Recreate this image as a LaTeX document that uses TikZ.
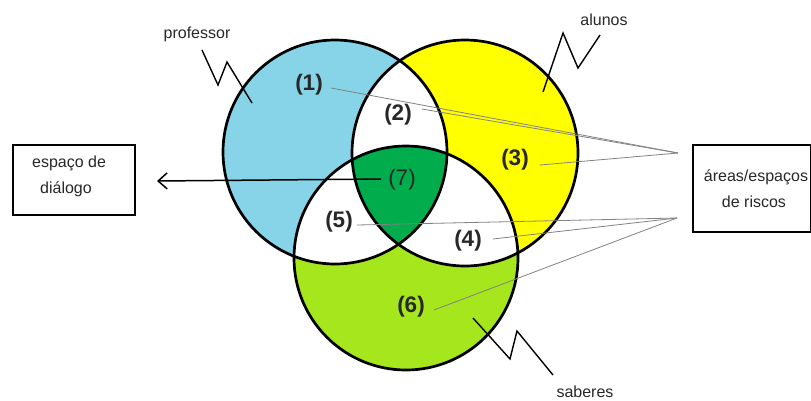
\documentclass[tikz,border=0pt]{standalone}
\usepackage{fontspec}
\setmainfont{Liberation Sans}
\usetikzlibrary{arrows.meta}
\definecolor{profblue}{RGB}{135,212,233}
\definecolor{alunyel}{RGB}{255,255,0}
\definecolor{sablime}{RGB}{165,230,28}
\definecolor{trigreen}{RGB}{0,172,76}
\definecolor{txtgray}{RGB}{40,40,40}
\definecolor{conngray}{RGB}{130,130,130}
\tikzset{
  lbl/.style={font=\fontsize{16}{18}\selectfont, text=txtgray, inner sep=0pt},
  num/.style={font=\fontsize{22.5}{24}\selectfont\bfseries, text=txtgray, inner sep=2pt},
  numlight/.style={font=\fontsize{22.5}{24}\selectfont, text=txtgray, inner sep=2pt},
  box/.style={draw=black, line width=1.4pt},
  ring/.style={draw=black, line width=2.7pt},
  conn/.style={draw=conngray, line width=0.8pt},
  zig/.style={draw=black, line width=1.4pt, line join=miter},
  arr/.style={draw=black, line width=1.5pt, -{Straight Barb[length=9pt,width=16pt,line width=1.5pt]}}
}
\begin{document}
\begin{tikzpicture}[x=1pt,y=-1pt]
\useasboundingbox (0,0) rectangle (811,400);
\fill[white] (0,0) rectangle (811,400);
% circle centres
\coordinate (B) at (335,152);
\coordinate (Y) at (465,153);
\coordinate (G) at (406,258);
% fills
\fill[profblue] (B) circle (112pt);
\fill[alunyel] (Y) circle (113pt);
\fill[sablime] (G) circle (112pt);
\begin{scope}
  \clip (B) circle (112pt);
  \fill[white] (Y) circle (113pt);
  \fill[white] (G) circle (112pt);
\end{scope}
\begin{scope}
  \clip (Y) circle (113pt);
  \fill[white] (G) circle (112pt);
\end{scope}
\begin{scope}
  \clip (B) circle (112pt);
  \clip (Y) circle (113pt);
  \fill[trigreen] (G) circle (112pt);
\end{scope}
% zigzags (drawn under outlines)
\coordinate (zp0) at (202,50);
\coordinate (zp1) at (218,85);
\coordinate (zp2) at (227,62);
\coordinate (zp3) at (252,103);
\draw[zig] (zp0) -- (zp1) -- (zp2) -- (zp3);
\coordinate (za0) at (543,92);
\coordinate (za1) at (563,33);
\coordinate (za2) at (578,68);
\coordinate (za3) at (600,35);
\draw[zig] (za0) -- (za1) -- (za2) -- (za3);
\coordinate (zs0) at (473,318);
\coordinate (zs1) at (510,359);
\coordinate (zs2) at (517,331);
\coordinate (zs3) at (553,375);
\draw[zig] (zs0) -- (zs1) -- (zs2) -- (zs3);
% outlines
\draw[ring] (B) circle (112pt);
\draw[ring] (Y) circle (113pt);
\draw[ring] (G) circle (112pt);
% region labels
\node[num] (n1) at (309,85) {(1)};
\node[num] (n2) at (398,115) {(2)};
\node[num] (n3) at (515,160) {(3)};
\node[numlight] (n7) at (402,180) {(7)};
\node[num] (n5) at (339,222) {(5)};
\node[num] (n4) at (468,241) {(4)};
\node[num] (n6) at (411,307) {(6)};
% set labels
\node[lbl] (prof) at (197,34) {professor};
\node[lbl] (alun) at (604,20) {alunos};
\node[lbl] (sab) at (585,392) {saberes};
% boxes
\draw[box] (13,145) rectangle (135,215);
\node[lbl, anchor=west] (dlg1) at (32,163) {espaço de};
\node[lbl, anchor=west] (dlg2) at (40,189) {diálogo};
\node[inner sep=0pt, minimum width=122pt, minimum height=70pt] (dlg) at (74,180) {};
\draw[box] (693,145) rectangle (811,232);
\node[lbl] (risk1) at (756,177) {áreas/espaços};
\node[lbl] (risk2) at (754,202) {de riscos};
\node[inner sep=0pt, minimum width=118pt, minimum height=87pt] (risk) at (752,188.5) {};
% connector convergence points
\coordinate (P1) at (678,153);
\coordinate (P2) at (677,218);
\draw[conn] ([xshift=6pt,yshift=-3pt]n1.east) -- (P1);
\draw[conn] ([xshift=8pt,yshift=6pt]n2.east) -- (P1);
\draw[conn] ([xshift=9pt,yshift=-5pt]n3.east) -- (P1);
\draw[conn] ([xshift=2pt,yshift=-3pt]n5.east) -- (P2);
\draw[conn] ([xshift=9pt,yshift=2pt]n4.east) -- (P2);
\draw[conn] ([xshift=7pt,yshift=-3pt]n6.east) -- (P2);
% arrow to dialogue box
\coordinate (tipL) at (157,181);
\draw[arr] ([xshift=-5pt,yshift=1pt]n7.west) -- (tipL);
\end{tikzpicture}
\end{document}
